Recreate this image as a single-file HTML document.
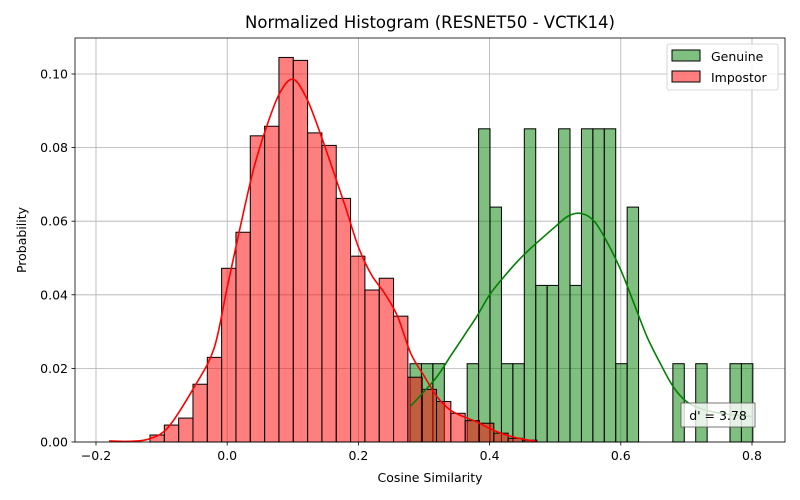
<!DOCTYPE html>
<html><head><meta charset="utf-8"><style>
body{margin:0;background:#fff;}
svg text{font-family:"DejaVu Sans","Liberation Sans",sans-serif;}
</style></head><body>
<svg id="chart" width="800" height="500" xmlns="http://www.w3.org/2000/svg" style="position:absolute;left:0;top:0">
<rect width="800" height="500" fill="#fff"/>
<g id="grid"></g><g id="bars"></g><g id="curves"></g><g id="axes"></g>
</svg>
<script>
const impStart = -0.1177, impWidth = 0.02184;
const impostorValues = [0.0019,0.0046,0.0065,0.0157,0.023,0.0472,0.057,0.0832,0.0858,0.1045,0.1037,0.084,0.0806,0.0662,0.0505,0.0413,0.0445,0.0342,0.0176,0.0143,0.011,0.0078,0.0058,0.0051,0.0024,0.001,0.0005];
const genStart = 0.2787, genWidth = 0.01742;
const genuineCounts = [1,1,1,0,0,1,4,3,1,1,4,2,2,4,2,4,4,4,1,3,0,0,0,1,0,1,0,0,1,1];
const genuineTotal = 47;
const impKdeX = [-0.18,-0.15,-0.12,-0.09,-0.05,-0.02,0,0.02,0.04,0.06,0.08,0.10,0.12,0.14,0.16,0.18,0.20,0.22,0.24,0.26,0.28,0.30,0.32,0.34,0.36,0.38,0.40,0.42,0.44,0.46,0.47];
const impKdeY = [0.0003,0.0002,0.0008,0.004,0.015,0.0255,0.042,0.0585,0.074,0.0857,0.0948,0.0986,0.0938,0.0848,0.0745,0.064,0.053,0.0454,0.0404,0.034,0.024,0.018,0.0123,0.0087,0.0069,0.0055,0.0037,0.0022,0.0012,0.0005,0.0003];
const genKdeX = [0.28,0.30,0.32,0.34,0.36,0.38,0.40,0.42,0.44,0.46,0.48,0.50,0.52,0.54,0.56,0.58,0.60,0.62,0.64,0.66,0.68,0.70,0.72,0.74,0.76,0.80];
const genKdeY = [0.0098,0.0137,0.0178,0.0232,0.0286,0.034,0.04,0.0445,0.0486,0.0522,0.0554,0.0585,0.0614,0.0621,0.0599,0.054,0.0467,0.0377,0.0286,0.0214,0.015,0.011,0.0092,0.0082,0.0076,0.0069];
const xTicks = [-0.2,0,0.2,0.4,0.6,0.8];
const xTickLabels = ["−0.2","0.0","0.2","0.4","0.6","0.8"];
const yTicks = [0,0.02,0.04,0.06,0.08,0.10];
const yTickLabels = ["0.00","0.02","0.04","0.06","0.08","0.10"];

const L=75,R=785,T=38,B=442;
const X=v=>227.2+v*656;
const Y=v=>442-v*3680;
const NS="http://www.w3.org/2000/svg";
function mk(tag,attrs,parent,txt){const e=document.createElementNS(NS,tag);for(const k in attrs)e.setAttribute(k,attrs[k]);if(txt!==undefined)e.textContent=txt;parent.appendChild(e);return e;}
const grid=document.getElementById('grid'),bars=document.getElementById('bars'),curves=document.getElementById('curves'),axes=document.getElementById('axes');

xTicks.forEach((t,i)=>{
 const g=mk('line',{x1:X(t),x2:X(t),y1:T,y2:B,stroke:'#b0b0b0','stroke-width':0.8},grid);
 
 
 mk('line',{x1:X(t),x2:X(t),y1:B,y2:B+3.5,stroke:'#000','stroke-width':0.8},axes);
 const tx=mk('text',{x:X(t),y:B+18,'font-size':12.5,'text-anchor':'middle'},axes,xTickLabels[i]);
 
 
});
yTicks.forEach((t,i)=>{
 const g=mk('line',{x1:L,x2:R,y1:Y(t),y2:Y(t),stroke:'#b0b0b0','stroke-width':0.8},grid);
 
 
 mk('line',{x1:L-3.5,x2:L,y1:Y(t),y2:Y(t),stroke:'#000','stroke-width':0.8},axes);
 const tx=mk('text',{x:L-7,y:Y(t)+4.5,'font-size':12.5,'text-anchor':'end'},axes,yTickLabels[i]);
 
 
});

genuineCounts.forEach((c,i)=>{
 if(!c)return;
 const v=c/genuineTotal,x0=X(genStart+i*genWidth),x1=X(genStart+(i+1)*genWidth);
 const r=mk('rect',{x:x0,y:Y(v),width:x1-x0,height:B-Y(v),fill:'rgba(0,128,0,0.5)',stroke:'#000','stroke-width':1},bars);
 
 
});
impostorValues.forEach((v,i)=>{
 const x0=X(impStart+i*impWidth),x1=X(impStart+(i+1)*impWidth);
 const r=mk('rect',{x:x0,y:Y(v),width:x1-x0,height:B-Y(v),fill:'rgba(255,0,0,0.5)',stroke:'#000','stroke-width':1},bars);
 
 
});
function path(xs,ys){
 const p=xs.map((x,i)=>[X(x),Y(ys[i])]);
 let d='M'+p[0][0].toFixed(1)+','+p[0][1].toFixed(1);
 for(let i=0;i<p.length-1;i++){
  const p0=p[i-1]||p[i],p1=p[i],p2=p[i+1],p3=p[i+2]||p2;
  const c1=[p1[0]+(p2[0]-p0[0])/6,p1[1]+(p2[1]-p0[1])/6];
  const c2=[p2[0]-(p3[0]-p1[0])/6,p2[1]-(p3[1]-p1[1])/6];
  d+=' C'+c1.map(v=>v.toFixed(1)).join(',')+' '+c2.map(v=>v.toFixed(1)).join(',')+' '+p2[0].toFixed(1)+','+p2[1].toFixed(1);
 }
 return d;
}
const pg=mk('path',{d:path(genKdeX,genKdeY),fill:'none',stroke:'green','stroke-width':1.6,'stroke-linejoin':'round'},curves);


const pr=mk('path',{d:path(impKdeX,impKdeY),fill:'none',stroke:'red','stroke-width':1.6,'stroke-linejoin':'round'},curves);


</script>
<svg style="position:absolute;left:0;top:0" width="800" height="500" xmlns="http://www.w3.org/2000/svg">
<rect x="75" y="38" width="710" height="404" fill="none" stroke="#000" stroke-width="0.8"/>
<text x="430" y="28" font-size="16.5" text-anchor="middle" font-family="DejaVu Sans, Liberation Sans, sans-serif">Normalized Histogram (RESNET50 - VCTK14)</text>
<text x="430" y="482" font-size="12.5" text-anchor="middle" font-family="DejaVu Sans, Liberation Sans, sans-serif">Cosine Similarity</text>
<text x="26" y="240" font-size="12.5" text-anchor="middle" transform="rotate(-90 26 240)" font-family="DejaVu Sans, Liberation Sans, sans-serif">Probability</text>
<g>
<rect x="667" y="44" width="111" height="46" rx="2" fill="rgba(255,255,255,0.8)" stroke="#ccc" stroke-width="0.8"/>
<rect x="672" y="50" width="28" height="11" fill="rgba(0,128,0,0.5)" stroke="#000" stroke-width="1"/>
<text x="711" y="61" font-size="12.5" font-family="DejaVu Sans, Liberation Sans, sans-serif">Genuine</text>
<rect x="672" y="71" width="28" height="11" fill="rgba(255,0,0,0.5)" stroke="#000" stroke-width="1"/>
<text x="711" y="82" font-size="12.5" font-family="DejaVu Sans, Liberation Sans, sans-serif">Impostor</text>
</g>
<g>
<rect x="681" y="403" width="74" height="24" fill="rgba(255,255,255,0.8)" stroke="#555" stroke-width="0.8"/>
<text x="718" y="420" font-size="12.5" text-anchor="middle" font-family="DejaVu Sans, Liberation Sans, sans-serif">d' = 3.78</text>
</g>
</svg>
</body></html>
